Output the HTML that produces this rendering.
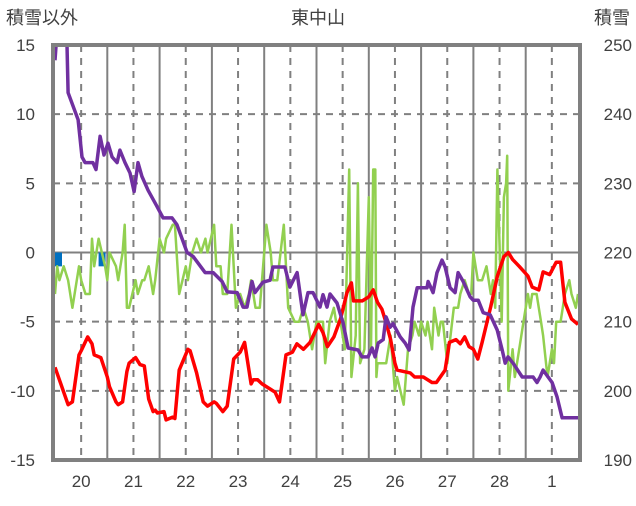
<!DOCTYPE html>
<html><head><meta charset="utf-8"><style>
body{margin:0;background:#fff;}
svg text{font-family:"Liberation Sans","Noto Sans CJK JP",sans-serif;fill:#404040;}
</style></head><body>
<svg id="c" width="636" height="501" viewBox="0 0 636 501" xmlns="http://www.w3.org/2000/svg">
<g id="grid"></g>
<g id="series"></g>
<g id="axes"></g>
<text x="6" y="24" font-size="18">積雪以外</text>
<text x="318" y="24" font-size="18" text-anchor="middle">東中山</text>
<text x="630" y="24" font-size="18" text-anchor="end">積雪</text>
</svg>
<script>
const dayLabels=["20","21","22","23","24","25","26","27","28","1"];
const leftTicks=[15,10,5,0,-5,-10,-15];
const rightTicks=[250,240,230,220,210,200,190];
const purpleHours=[0,0.5,5.5,6,10.6,12.4,13.8,17.4,18.8,20.7,22.5,24.3,26.2,28.5,29.8,32.1,34.4,36.3,38.1,39.9,42.7,46.4,49.6,53.7,56,60.6,63.4,68.9,72.6,76.7,79,83.6,86.3,88.1,90.4,91.8,95.4,98.7,100,105.5,107.8,111.1,113.8,116.1,118.4,121.6,123,124.8,126.2,129.4,132.2,134.5,139.1,140.9,143.7,145.5,146.9,148.3,150.6,151.9,153.8,155.1,158.4,160.7,162.5,164.3,166.2,170.7,171.2,173.5,175.3,177.6,179,181.3,183.6,185,187.3,190.5,191.9,194.2,196.5,199.7,202.9,205.2,206.6,207.9,210.2,214.4,219.4,221.2,222.6,224,228.1,230.4,232.7,240];
const purpleSnow=[247.8,250,250,243.1,239.2,233.8,233,233,232,236.8,234.1,235.8,233.8,233,234.8,233,231.5,228.8,233,231,229,226.9,225,225,224,220,219.4,217.1,217.1,215.8,214.3,214.2,212.1,212.1,215.8,214.2,215.7,216,217.9,217.9,215,217.1,211,214.2,214.2,212.1,213.9,212.1,214,212.7,209.8,206.2,205.9,204.9,204.9,206.2,204.9,206.9,207.4,210.7,209.2,209.7,207.8,206.9,205.9,212.1,214.9,214.9,215.8,214.2,217.1,218.9,217.9,214.9,214.2,217.1,215.8,213.6,213.1,213.1,211.3,211,208.8,205.9,204,204.9,204,202,202,201.2,202,203,201.2,199.1,196.1,196.1];
const redHours=[0,2,6,8,11,12,15,17,18,21,24,25,28,29,31,33,34,37,39,41,43,45,46,47,50,51,54,55,57,61,62,65,68,70,73,74,77,79,82,85,87,90,91,93,95,99,101,103,106,109,111,114,117,121,123,125,128,131,134,136,137,141,144,146,148,150,152,154,156,157,163,165,169,173,175,179,181,184,186,188,190,192,194,196,200,203,206,208,210,213,217,219,222,224,227,230,232,234,237,240];
const redTemp=[-8.3,-9.2,-11,-10.8,-7.4,-7.1,-6.1,-6.6,-7.4,-7.6,-9,-9.7,-10.8,-11,-10.8,-8.6,-8,-7.6,-8.1,-8.2,-10.6,-11.5,-11.4,-11.6,-11.5,-12.1,-11.9,-12,-8.5,-7,-7.1,-8.7,-10.8,-11.1,-10.8,-10.9,-11.5,-11.1,-7.7,-7.2,-6.5,-9.5,-9.2,-9.2,-9.5,-9.9,-10.1,-10.8,-7.4,-7.2,-6.6,-7,-6.5,-5.2,-5.8,-6.8,-6.1,-4.8,-2.9,-2.2,-3.5,-3.5,-3.2,-2.7,-3.6,-4.1,-5.1,-6.3,-8,-8.5,-8.7,-9,-9,-9.4,-9.4,-8.5,-6.5,-6.3,-6.6,-6.1,-6.8,-7,-7.7,-6.5,-3.9,-1.7,-0.3,0,-0.5,-1,-1.7,-2.5,-2.7,-1.4,-1.6,-0.7,-0.7,-3.6,-4.8,-5.2];
const greenHours=[0,1,2,4,6,8,11,12,14,16,17,18,20,23,24,25,28,29,31,32,33,34,37,38,40,41,43,45,46,48,50,51,54,55,57,60,61,63,65,67,69,70,73,74,76,77,79,81,83,85,87,89,90,92,94,95,97,99,100,102,105,107,110,112,114,116,118,120,123,124,126,128,129,131,133,135,136,138,139,140,142,144,145,146,147,147.5,148,152,154,156,157,160,162,164,165,167,168,170,171,173,174,176,177,178,180,183,185,186,188,190,191,192,194,196,198,200,201,202,203,205,206,207,207.5,208,210,211,213,215,217,218,219,221,223,224,226,228,229,230,232,234,236,237,239,240];
const greenWind=[-3,-1,-2,-1,-2,-4,-1,-2,-3,-3,1,-1,1,-1,-2,0,-1,-2,0,2,-4,-4,-2,-3,-2,-2,-1,-3,-2,1,0,1,2,2,-3,-1,-2,0,1,0,1,0,2,-1,-1,-3,-3,2,-4,-3,-4,-3,-2,-4,-4,-2,2,0,-2,-2,2,-4,-5,-5,-4,-5,-7,-5,-5,-8,-5,-4,-5,-5,-7,6,-9,-6,5,-8,-7,4,-7,6,6,-9,-8,-8,-6,-10,-9,-11,-7,-6,-5,-6,-5,-6,-5,-7,-4,-6,-5,-5,-8,-4,-4,-3,-2,-3,-3,0,-2,-2,-1,-3,-2,-4,6,-5,4,5,7,-10,-7,-9,-7,-5,-3,-4,-3,-3,-5,-6,-9,-7,-8,-5,-5,-3,-2,-3,-4,-3];
const precipHours=[0,20];
const precipVals=[-1,-1];

const X0=55,PXH=52.3/24,L=53,R=580,T=45,B=460;
const xs=h=>X0+h*PXH;
const yl=v=>T+(15-v)*(B-T)/30;
const yr=v=>T+(250-v)*(B-T)/60;
const NS="http://www.w3.org/2000/svg";
function mk(tag,parent){const e=document.createElementNS(NS,tag);document.getElementById(parent).appendChild(e);return e;}
// grid
for(let d=0;d<=10;d++){
  const x=xs(d*24);
  if(d>0&&d<10){const l=mk('line','grid');l.setAttribute('x1',x);l.setAttribute('x2',x);l.setAttribute('y1',T);l.setAttribute('y2',B);l.setAttribute('stroke','#808080');l.setAttribute('stroke-width','2');
  
  }
  if(d<10){const xm=xs(d*24+12);const l2=mk('line','grid');l2.setAttribute('x1',xm);l2.setAttribute('x2',xm);l2.setAttribute('y1',T);l2.setAttribute('y2',B);l2.setAttribute('stroke','#808080');l2.setAttribute('stroke-width','2');l2.setAttribute('stroke-dasharray','7,6');
  
  
  const t=mk('text','axes');t.setAttribute('x',xm);t.setAttribute('y',487);t.setAttribute('font-size','17');t.setAttribute('text-anchor','middle');t.textContent=dayLabels[d];
  
  }
}
leftTicks.forEach((v,i)=>{
  const y=yl(v);
  if(v!==15&&v!==-15){const l=mk('line','grid');l.setAttribute('x1',L);l.setAttribute('x2',R);l.setAttribute('y1',y);l.setAttribute('y2',y);l.setAttribute('stroke','#808080');l.setAttribute('stroke-width','2');if(v!==0)l.setAttribute('stroke-dasharray','7,6');
  
  }
  const t=mk('text','axes');t.setAttribute('x',35);t.setAttribute('y',y+6);t.setAttribute('font-size','17');t.setAttribute('text-anchor','end');t.textContent=v;
  
  
  const t2=mk('text','axes');t2.setAttribute('x',632);t2.setAttribute('y',yr(rightTicks[i])+6);t2.setAttribute('font-size','17');t2.setAttribute('text-anchor','end');t2.textContent=rightTicks[i];
  
  
});
const fr=mk('rect','axes');fr.setAttribute('x',L);fr.setAttribute('y',T);fr.setAttribute('width',R-L);fr.setAttribute('height',B-T);fr.setAttribute('fill','none');fr.setAttribute('stroke','#808080');fr.setAttribute('stroke-width','4');


// precip bars
precipHours.forEach((h,i)=>{const r=mk('rect','series');r.setAttribute('x',xs(h));r.setAttribute('width',7);const y0=yl(0),y1=yl(precipVals[i]);r.setAttribute('y',Math.min(y0,y1));r.setAttribute('height',Math.abs(y1-y0));r.setAttribute('fill','#0070c0');

});
function line(hs,vs,yf,col,w,name){
  const p=mk('polyline','series');
  p.setAttribute('points',hs.map((h,i)=>xs(h).toFixed(1)+','+yf(vs[i]).toFixed(1)).join(' '));
  p.setAttribute('fill','none');p.setAttribute('stroke',col);p.setAttribute('stroke-width',w);p.setAttribute('stroke-linejoin','round');
  
  
}
line(greenHours,greenWind,yl,'#92d050',2.5,'wind-series');
line(redHours,redTemp,yl,'#ff0000',3.5,'temperature-series');
line(purpleHours,purpleSnow,yr,'#7030a0',3.5,'snow-depth-series');
</script>
</body></html>
